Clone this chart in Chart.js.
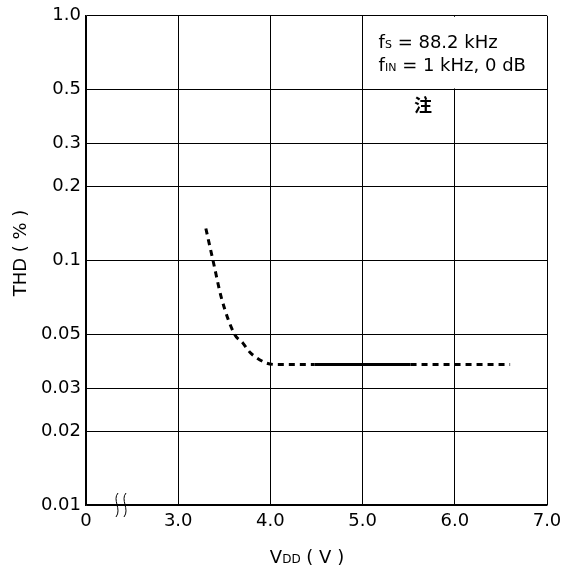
<!DOCTYPE html>
<html>
<head>
<meta charset="utf-8">
<script src="https://cdn.jsdelivr.net/npm/chart.js@4.4.1/dist/chart.umd.min.js"></script>
<style>
  html, body { margin: 0; padding: 0; background: #fff; }
  #wrap { width: 571px; height: 577px; }
</style>
</head>
<body>
<div id="wrap"><canvas id="myChart"></canvas></div>
<script>
// tick values (x = 2 stands for the broken "0" position)
var xTicks = [2, 3, 4, 5, 6, 7];
var yTicks = [0.01, 0.02, 0.03, 0.05, 0.1, 0.2, 0.3, 0.5, 1.0];

// THD curve
var vddLow = [3.30, 3.38, 3.47, 3.61, 3.70, 3.78, 3.85, 3.96, 4.10, 4.48];
var thdLow = [0.135, 0.099, 0.070, 0.050, 0.046, 0.042, 0.040, 0.038, 0.0375, 0.0375];
var vddMid = [4.48, 5.52];
var thdMid = [0.0375, 0.0375];
var vddHigh = [5.52, 6.60];
var thdHigh = [0.0375, 0.0375];

var FONT = "'DejaVu Sans', sans-serif";

function pts(xs, ys) {
  return xs.map(function (x, i) { return { x: x, y: ys[i] }; });
}

// draw a string with a small subscript-like part: [text, size] pieces
function drawPieces(c, pieces, x, y) {
  pieces.forEach(function (p) {
    c.font = p[1] + "px " + FONT;
    c.fillText(p[0], x, y);
    x += c.measureText(p[0]).width;
  });
}
function piecesWidth(c, pieces) {
  var w = 0;
  pieces.forEach(function (p) {
    c.font = p[1] + "px " + FONT;
    w += c.measureText(p[0]).width;
  });
  return w;
}

var extras = {
  id: "extras",
  beforeDatasetsDraw: function (chart) {
    var c = chart.ctx;
    var xs = chart.scales.x, ys = chart.scales.y;
    // white box behind the conditions text
    var l = xs.getPixelForValue(5) + 1, r = xs.getPixelForValue(7) - 1;
    var t = ys.getPixelForValue(1.0) + 1, b = ys.getPixelForValue(0.5) - 1;
    c.save();
    c.fillStyle = "#fff";
    c.fillRect(l, t, r - l, b - t);
    c.restore();
  },
  afterDraw: function (chart) {
    var c = chart.ctx;
    var xs = chart.scales.x, ys = chart.scales.y;
    c.save();
    c.fillStyle = "#000";
    c.textBaseline = "alphabetic";
    c.textAlign = "left";

    // conditions text
    var tx = xs.getPixelForValue(5) + 16;
    drawPieces(c, [["f", 18], ["S", 11], [" = 88.2 kHz", 18]], tx, 48);
    drawPieces(c, [["f", 18], ["IN", 11], [" = 1 kHz, 0 dB", 18]], tx, 71);

    // note mark
    c.font = "bold 18px 'Noto Sans CJK SC', sans-serif";
    c.textAlign = "center";
    c.fillText("注", 423, 112);
    c.textAlign = "left";

    // y axis title
    c.save();
    c.translate(26, 253);
    c.rotate(-Math.PI / 2);
    var yt = [["THD ( % )", 18]];
    drawPieces(c, yt, -piecesWidth(c, yt) / 2, 0);
    c.restore();

    // x axis title with subscript
    var xt = [["V", 18], ["DD", 12], [" ( V )", 18]];
    drawPieces(c, xt, 307 - piecesWidth(c, xt) / 2, 563);

    // axis break marks
    var by = ys.bottom;
    c.strokeStyle = "#000";
    c.lineWidth = 1;
    [117, 125].forEach(function (bx) {
      c.beginPath();
      c.moveTo(bx + 1, by - 12);
      c.bezierCurveTo(bx - 5, by - 5, bx + 5, by + 4, bx - 1, by + 12);
      c.stroke();
    });
    c.restore();
  }
};

var lineBase = {
  borderColor: "#000",
  backgroundColor: "transparent",
  borderWidth: 3,
  pointRadius: 0,
  fill: false
};

const ctx = document.getElementById("myChart");
const myChart = new Chart(ctx, {
  type: "line",
  data: {
    datasets: [
      Object.assign({}, lineBase, {
        data: pts(vddLow, thdLow),
        borderDash: [6, 5],
        cubicInterpolationMode: "monotone"
      }),
      Object.assign({}, lineBase, {
        data: pts(vddMid, thdMid)
      }),
      Object.assign({}, lineBase, {
        data: pts(vddHigh, thdHigh),
        borderDash: [6, 5]
      })
    ]
  },
  options: {
    responsive: true,
    maintainAspectRatio: false,
    animation: false,
    layout: { padding: { left: 0, top: 14, right: 24, bottom: 0 } },
    plugins: {
      legend: { display: false },
      tooltip: { enabled: false }
    },
    scales: {
      x: {
        type: "linear",
        min: 2,
        max: 7,
        afterBuildTicks: function (axis) {
          axis.ticks = xTicks.map(function (v) { return { value: v }; });
        },
        afterFit: function (axis) { axis.height = 72; },
        ticks: {
          color: "#000",
          padding: 6,
          font: { size: 18, family: FONT },
          maxRotation: 0,
          callback: function (v) { return v === 2 ? "0" : v.toFixed(1); }
        },
        grid: { color: "#000", lineWidth: 1, drawTicks: false },
        border: { color: "#000", width: 1.5 }
      },
      y: {
        type: "logarithmic",
        min: 0.01,
        max: 1.0,
        afterBuildTicks: function (axis) {
          axis.ticks = yTicks.map(function (v) { return { value: v }; });
        },
        afterFit: function (axis) { axis.width = 86; },
        ticks: {
          color: "#000",
          padding: 5,
          font: { size: 18, family: FONT },
          callback: function (v) { return v >= 0.1 ? v.toFixed(1) : String(v); }
        },
        grid: { color: "#000", lineWidth: 1, drawTicks: false },
        border: { color: "#000", width: 1.5 }
      }
    }
  },
  plugins: [extras]
});
</script>
</body>
</html>
